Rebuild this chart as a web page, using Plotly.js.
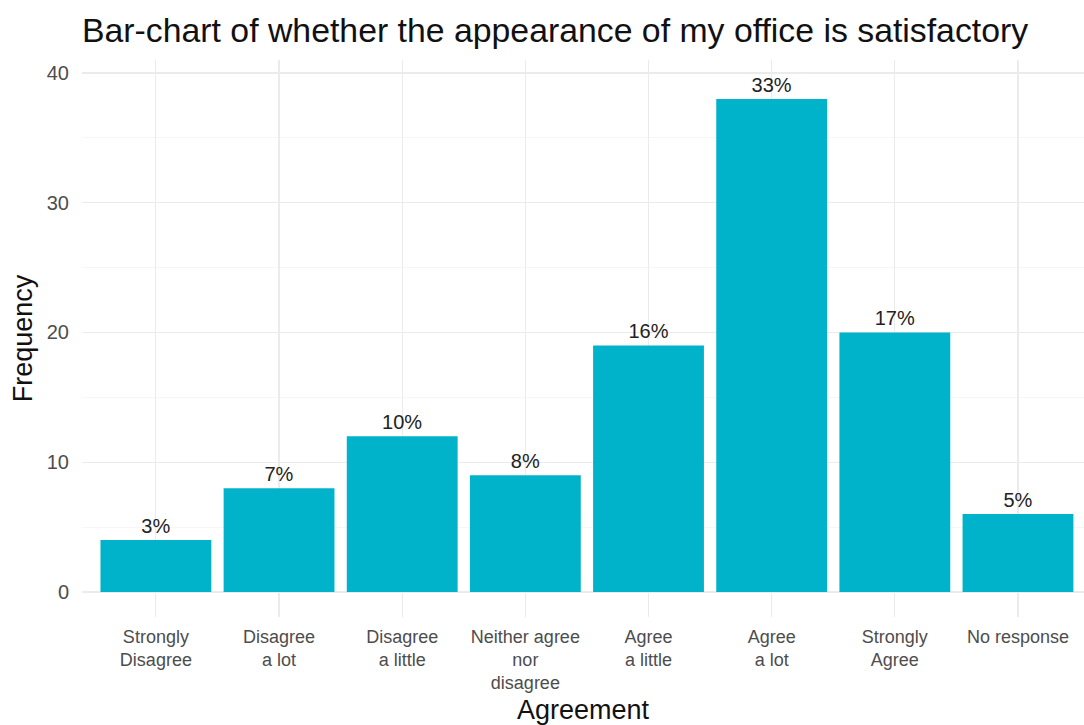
<!DOCTYPE html>
<html>
<head>
<meta charset="utf-8">
<script src="https://cdn.plot.ly/plotly-3.0.1.min.js"></script>
<style>html,body{margin:0;padding:0;background:#fff;}#chart{width:1084px;height:725px;}</style>
</head>
<body>
<div id="chart"></div>
<script>
const categories = ["Strongly<br>Disagree", "Disagree<br>a lot", "Disagree<br>a little", "Neither agree<br>nor<br>disagree", "Agree<br>a little", "Agree<br>a lot", "Strongly<br>Agree", "No response"];
const frequency = [4, 8, 12, 9, 19, 38, 20, 6];
const percentLabels = ["3%", "7%", "10%", "8%", "16%", "33%", "17%", "5%"];

const trace = {
  type: "bar",
  x: categories,
  y: frequency,
  width: 0.9,
  marker: {color: "#00B3CA", line: {width: 0}},
  text: percentLabels,
  textposition: "outside",
  textfont: {family: "Liberation Sans, Arial, sans-serif", size: 20, color: "#222"},
  cliponaxis: false,
  hoverinfo: "skip"
};

const layout = {
  width: 1084, height: 725,
  margin: {l: 82, r: 0, t: 60, b: 108},
  paper_bgcolor: "#fff", plot_bgcolor: "#fff",
  font: {family: "Liberation Sans, Arial, sans-serif"},
  title: {text: "Bar-chart of whether the appearance of my office is satisfactory",
          font: {size: 33.8, color: "#111"}, x: 0, xref: "paper", xanchor: "left", y: 0.959, yref: "container", yanchor: "middle"},
  showlegend: false,
  bargap: 0.1,
  xaxis: {
    type: "category",
    range: [-0.6, 7.536],
    showgrid: true, gridcolor: "#EBEBEB", gridwidth: 1.2,
    tickfont: {size: 18, color: "#4D4D4D"},
    ticks: "outside", ticklen: 3, tickcolor: "rgba(0,0,0,0)",
    showline: false, zeroline: false,
    title: {text: "Agreement", font: {size: 27, color: "#111"}, standoff: 15}
  },
  yaxis: {
    range: [-1.93, 41.0],
    dtick: 10, tick0: 0,
    showgrid: true, gridcolor: "#EBEBEB", gridwidth: 1.2,
    minor: {dtick: 5, tick0: 0, showgrid: true, gridcolor: "#F4F4F4", gridwidth: 0.8},
    zeroline: false, showline: false,
    tickfont: {size: 20, color: "#4D4D4D"},
    ticks: "outside", ticklen: 8, tickcolor: "rgba(0,0,0,0)",
    title: {text: "Frequency", font: {size: 27, color: "#111"}, standoff: 6}
  }
};

Plotly.newPlot("chart", [trace], layout, {displayModeBar: false, staticPlot: true});
</script>
</body>
</html>
